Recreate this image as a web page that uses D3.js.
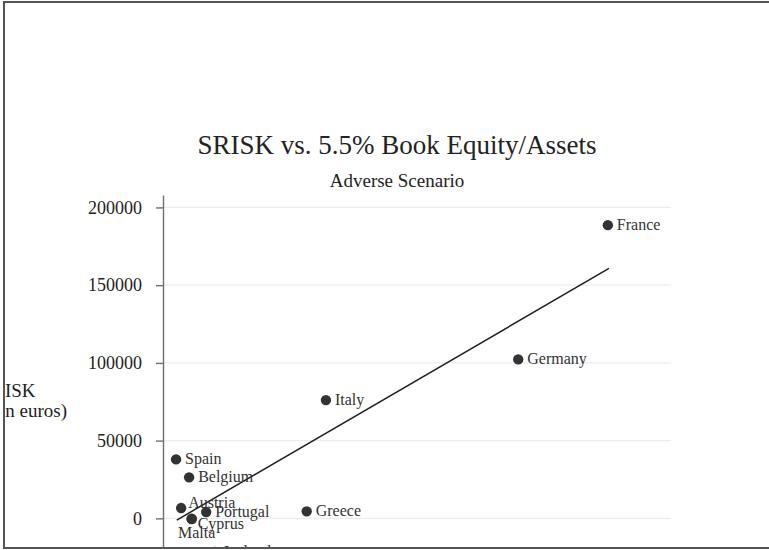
<!DOCTYPE html>
<html>
<head>
  <meta charset="utf-8">
  <title>SRISK vs. 5.5% Book Equity/Assets</title>
  <style>
    body { margin: 0; background: #fff; }
    text { font-family: "Liberation Serif", "Times New Roman", serif; }
  </style>
</head>
<body>
<script src="https://cdn.jsdelivr.net/npm/d3@7"></script>
<div id="chart"></div>
<script>

// data
var countries = ["France", "Germany", "Italy", "Spain", "Belgium", "Austria",
                 "Portugal", "Cyprus", "Greece", "Malta", "Iceland"];
var shortfall = [122.6, 97.9, 44.9, 3.6, 7.2, 5.0, 11.9, 7.9, 39.6, 7.9, 14.3];
var srisk     = [188600, 102250, 76080, 37940, 26370, 6620, 4050, -260, 4500, -400, -21670];
// Stata style clock positions for the marker labels
var labelPos  = [3, 3, 3, 3, 3, 2, 3, 4, 3, 6, 3];

// fitted line end points
var fitX = [3.8, 122.9];
var fitY = [-1090, 160770];

var yTicks = [0, 50000, 100000, 150000, 200000];

var width = 769,
    height = 550;

var svg = d3.select("#chart")
  .append("svg")
    .attr("width", width)
    .attr("height", height);

svg.append("clipPath")
    .attr("id", "frame")
  .append("rect")
    .attr("x", 5).attr("y", 3)
    .attr("width", width - 5).attr("height", 544);

var g = svg.append("g").attr("clip-path", "url(#frame)");

var x = d3.scaleLinear().domain([0, 140]).range([163, 671]);
var y = d3.scaleLinear().domain([-30000, 208000]).range([565, 195]);

// grid
g.append("g")
  .selectAll("line")
  .data(yTicks)
  .enter()
  .append("line")
    .attr("x1", 164).attr("x2", 671)
    .attr("y1", function(d) { return y(d); })
    .attr("y2", function(d) { return y(d); })
    .style("stroke", "#ececec")
    .style("stroke-width", 1.2);

// y axis
var yAxis = g.append("g")
  .attr("transform", "translate(163,0)")
  .call(d3.axisLeft(y)
    .tickValues(yTicks)
    .tickFormat(d3.format("d"))
    .tickSize(7)
    .tickSizeOuter(0)
    .tickPadding(14));

yAxis.selectAll("path, line")
  .style("stroke", "#6e6e6e")
  .style("stroke-width", 1.4);
yAxis.selectAll("text")
  .style("font-family", "Liberation Serif, serif")
  .style("font-size", "18px")
  .style("fill", "#222");

// y title (partly cut by the frame, as in the source)
g.append("text")
  .attr("x", 35.5).attr("y", 397)
  .attr("text-anchor", "end")
  .style("font-size", "19px").style("fill", "#222")
  .text("SRISK");
g.append("text")
  .attr("x", 67).attr("y", 416.5)
  .attr("text-anchor", "end")
  .style("font-size", "19px").style("fill", "#222")
  .text("(million euros)");

// titles
g.append("text")
  .attr("x", 397).attr("y", 154)
  .attr("text-anchor", "middle")
  .style("font-size", "27px").style("fill", "#222")
  .text("SRISK vs. 5.5% Book Equity/Assets");
g.append("text")
  .attr("x", 397).attr("y", 187)
  .attr("text-anchor", "middle")
  .style("font-size", "19px").style("fill", "#222")
  .text("Adverse Scenario");

// fit line
var fit = fitX.map(function(d, i) { return [d, fitY[i]]; });
g.append("path")
  .datum(fit)
  .attr("d", d3.line()
    .x(function(d) { return x(d[0]); })
    .y(function(d) { return y(d[1]); }))
  .style("fill", "none")
  .style("stroke", "#1e1e1e")
  .style("stroke-width", 1.5);

var points = countries.map(function(c, i) {
  return { name: c, x: shortfall[i], y: srisk[i], pos: labelPos[i] };
});

// draw Malta first so Cyprus sits on top of it
var order = [9].concat(d3.range(countries.length).filter(function(i) { return i != 9; }));

g.append("g")
  .selectAll("circle")
  .data(order.map(function(i) { return points[i]; }))
  .enter()
  .append("circle")
    .attr("cx", function(d) { return x(d.x); })
    .attr("cy", function(d) { return y(d.y); })
    .attr("r", 5.2)
    .style("fill", "#333");

var offsets = {
  2: { dx: 7, dy: 0, anchor: "start" },
  3: { dx: 9, dy: 5, anchor: "start" },
  4: { dx: 6, dy: 10, anchor: "start" },
  6: { dx: 5, dy: 19, anchor: "middle" }
};

g.append("g")
  .selectAll("text")
  .data(points)
  .enter()
  .append("text")
    .attr("x", function(d) { return x(d.x) + offsets[d.pos].dx; })
    .attr("y", function(d) { return y(d.y) + offsets[d.pos].dy; })
    .attr("text-anchor", function(d) { return offsets[d.pos].anchor; })
    .style("font-size", "16px")
    .style("fill", "#333")
    .text(function(d) { return d.name; });

// frame
svg.append("line").attr("x1", 3).attr("x2", width).attr("y1", 2).attr("y2", 2)
  .style("stroke", "#555").style("stroke-width", 2);
svg.append("line").attr("x1", 4).attr("x2", 4).attr("y1", 1).attr("y2", 549)
  .style("stroke", "#555").style("stroke-width", 2);
svg.append("line").attr("x1", 3).attr("x2", width).attr("y1", 548).attr("y2", 548)
  .style("stroke", "#555").style("stroke-width", 2);

</script>
</body>
</html>
